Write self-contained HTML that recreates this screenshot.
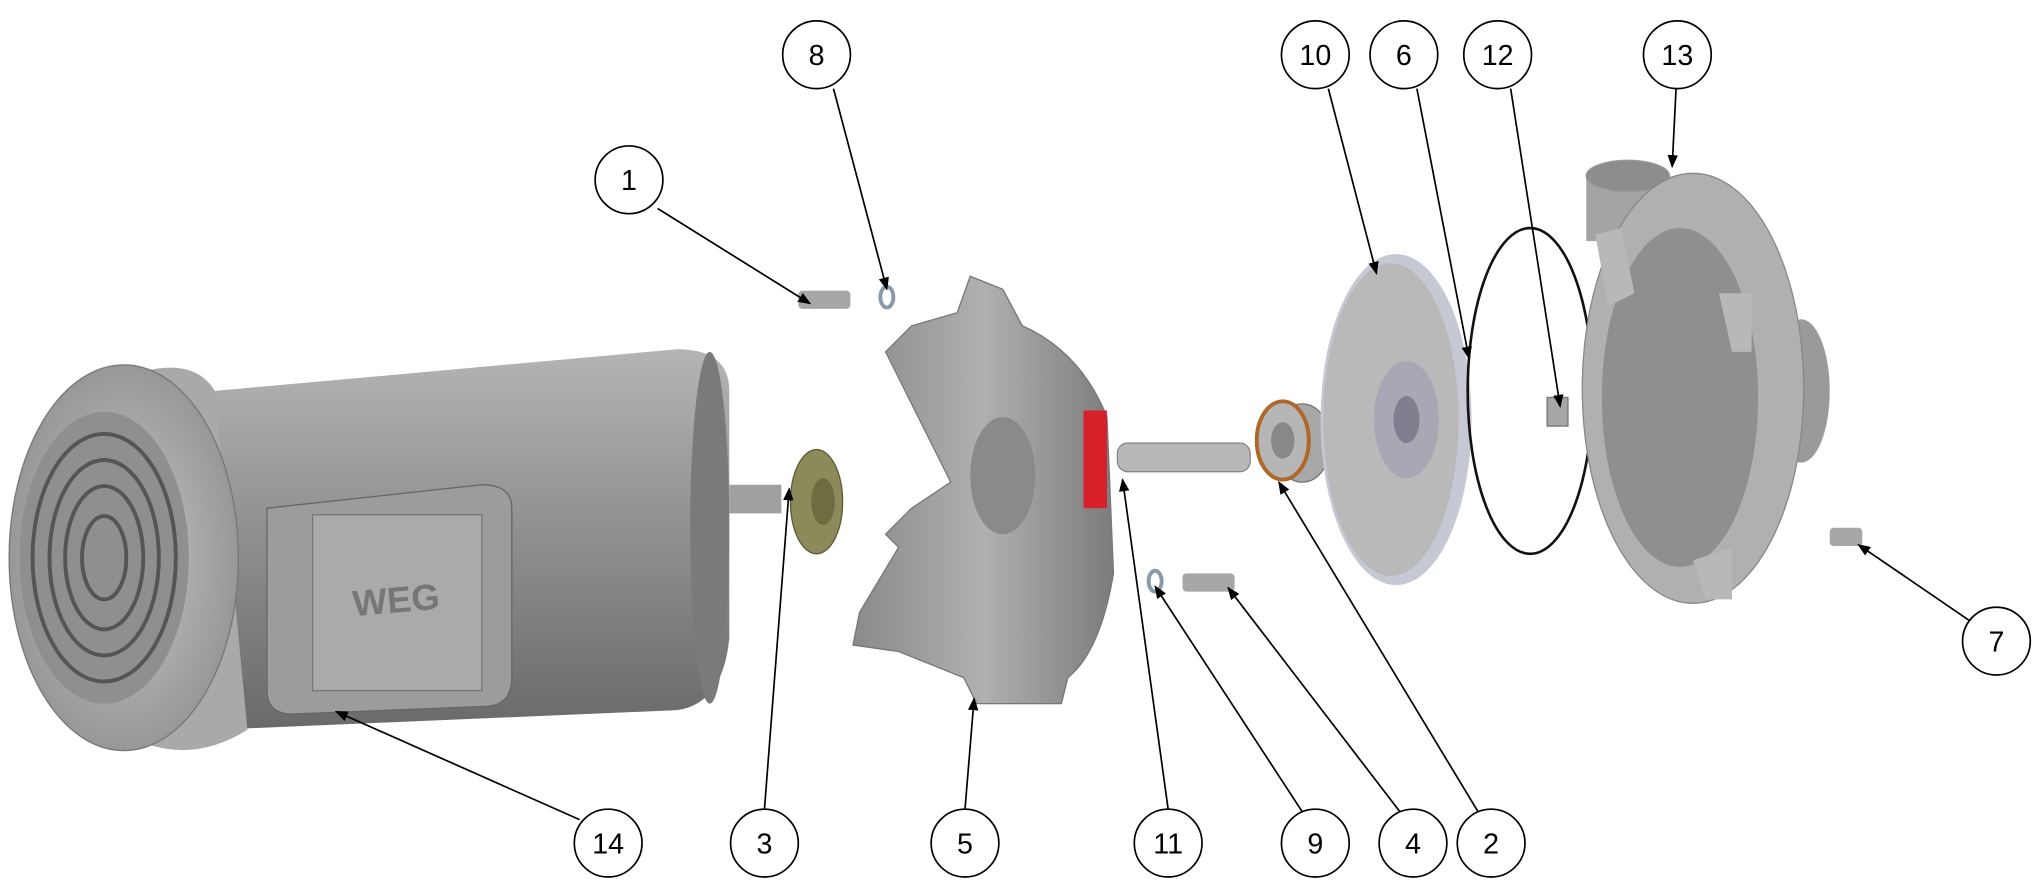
<!DOCTYPE html>
<html><head><style>html,body{margin:0;padding:0;background:#fff;}svg{display:block}</style></head>
<body>
<svg width="2042" height="890" viewBox="0 0 1568 683" preserveAspectRatio="none" xmlns="http://www.w3.org/2000/svg">
<defs>
<linearGradient id="g1" x1="0" y1="0" x2="0" y2="1"><stop offset="0" stop-color="#b4b4b4"/><stop offset="0.5" stop-color="#8e8e8e"/><stop offset="1" stop-color="#6a6a6a"/></linearGradient>
<linearGradient id="g2" x1="0" y1="0" x2="1" y2="0"><stop offset="0" stop-color="#8a8a8a"/><stop offset="0.5" stop-color="#b0b0b0"/><stop offset="1" stop-color="#7c7c7c"/></linearGradient>
<radialGradient id="g3" cx="0.5" cy="0.5" r="0.6"><stop offset="0" stop-color="#c8c8c8"/><stop offset="1" stop-color="#8e8e8e"/></radialGradient>
<marker id="a" markerWidth="10" markerHeight="8" refX="9" refY="4" orient="auto" markerUnits="userSpaceOnUse"><path d="M0,0 L10,4 L0,8 z" fill="#000"/></marker>
</defs>
<!-- motor -->
<path d="M165,300 L520,268 Q560,268 560,300 L560,490 Q555,540 520,545 L165,560 z" fill="url(#g1)"/>
<ellipse cx="545" cy="405" rx="15" ry="135" fill="#7a7a7a"/>
<path d="M110,285 Q150,275 165,300 L190,560 Q150,585 110,570 z" fill="#a9a9a9"/>
<ellipse cx="95" cy="428" rx="88" ry="148" fill="url(#g3)" stroke="#777"/>
<ellipse cx="80" cy="428" rx="65" ry="112" fill="#8f8f8f"/>
<g fill="none" stroke="#555" stroke-width="3">
<ellipse cx="80" cy="428" rx="55" ry="95"/><ellipse cx="80" cy="428" rx="42" ry="75"/><ellipse cx="80" cy="428" rx="30" ry="55"/><ellipse cx="80" cy="428" rx="17" ry="32"/></g>
<rect x="560" y="372" width="40" height="22" fill="#a0a0a0"/>
<path d="M205,390 L370,372 Q393,372 393,390 L393,520 Q393,540 375,542 L225,548 Q205,548 205,530 z" fill="#9c9c9c" stroke="#666"/>
<rect x="240" y="395" width="130" height="135" fill="#aaaaaa" stroke="#777"/>
<text x="305" y="470" font-family="Liberation Sans,sans-serif" font-size="28" font-weight="bold" fill="#777" text-anchor="middle" transform="rotate(-5 305 470)">WEG</text>
<ellipse cx="627" cy="385" rx="20" ry="40" fill="#8c8a5a" stroke="#5d5b35"/>
<ellipse cx="632" cy="385" rx="9" ry="18" fill="#6e6c40"/>
<!-- adapter -->
<path d="M745,212 L770,222 L785,250 Q830,270 850,320 L855,440 Q845,500 820,520 L815,540 L750,540 L740,520 L690,500 L655,495 L660,470 L690,420 L680,410 L700,390 L730,370 L700,310 L680,270 L700,250 L735,240 z" fill="url(#g2)" stroke="#777"/>
<ellipse cx="770" cy="365" rx="25" ry="45" fill="#8a8a8a"/>
<rect x="832" y="315" width="18" height="75" fill="#d8202a"/>
<!-- shaft -->
<rect x="858" y="340" width="102" height="22" rx="8" fill="#b8b8b8" stroke="#888"/>
<!-- seal -->
<ellipse cx="1000" cy="340" rx="22" ry="30" fill="#a8a8a8" stroke="#777"/>
<ellipse cx="985" cy="338" rx="20" ry="30" fill="#b6b6b6" stroke="#b0672a" stroke-width="3"/>
<ellipse cx="985" cy="338" rx="9" ry="14" fill="#888"/>
<!-- impeller -->
<ellipse cx="1072" cy="322" rx="58" ry="127" fill="#c6c8d4"/>
<ellipse cx="1068" cy="322" rx="52" ry="120" fill="#b9b9b9"/>
<ellipse cx="1080" cy="322" rx="25" ry="45" fill="#a8a8b4"/>
<ellipse cx="1080" cy="322" rx="10" ry="18" fill="#7f7f90"/>
<!-- o-ring -->
<ellipse cx="1175" cy="300" rx="48" ry="125" fill="none" stroke="#111" stroke-width="2"/>
<!-- nut 12 -->
<rect x="1188" y="305" width="16" height="22" fill="#a6a6a6" stroke="#777"/>
<!-- casing -->
<rect x="1218" y="135" width="65" height="50" fill="#a4a4a4"/>
<ellipse cx="1250" cy="135" rx="32" ry="12" fill="#8d8d8d" stroke="#999"/>
<ellipse cx="1383" cy="300" rx="22" ry="55" fill="#9a9a9a"/>
<ellipse cx="1300" cy="298" rx="85" ry="165" fill="#b0b0b0" stroke="#888"/>
<ellipse cx="1290" cy="305" rx="60" ry="130" fill="#8f8f8f"/>
<path d="M1225,180 L1245,175 L1255,225 L1235,235 z M1320,225 L1345,225 L1345,270 L1330,270 z M1300,430 L1330,420 L1330,460 L1310,460 z" fill="#b8b8b8"/>
<!-- small bolts -->
<rect x="613" y="223" width="40" height="14" rx="3" fill="#a7a7a7"/>
<ellipse cx="681" cy="228" rx="5" ry="8" fill="none" stroke="#8899aa" stroke-width="3"/>
<rect x="908" y="440" width="40" height="14" rx="3" fill="#a7a7a7"/>
<ellipse cx="887" cy="446" rx="5" ry="8" fill="none" stroke="#8899aa" stroke-width="3"/>
<rect x="1405" y="405" width="25" height="14" rx="3" fill="#a7a7a7"/>
<!-- leaders -->
<g stroke="#000" stroke-width="1.3" fill="none" marker-end="url(#a)">
<line x1="640" y1="68" x2="681" y2="222"/>
<line x1="505" y1="160" x2="622" y2="233"/>
<line x1="1020" y1="68" x2="1057" y2="210"/>
<line x1="1088" y1="68" x2="1128" y2="275"/>
<line x1="1160" y1="68" x2="1198" y2="312"/>
<line x1="1287" y1="68" x2="1284" y2="128"/>
<line x1="1512" y1="476" x2="1427" y2="418"/>
<line x1="445" y1="629" x2="258" y2="546"/>
<line x1="587" y1="621" x2="606" y2="375"/>
<line x1="741" y1="621" x2="748" y2="536"/>
<line x1="897" y1="621" x2="862" y2="368"/>
<line x1="1000" y1="623" x2="887" y2="450"/>
<line x1="1075" y1="623" x2="943" y2="451"/>
<line x1="1135" y1="623" x2="982" y2="370"/>
</g>
<g fill="#fff" stroke="#000" stroke-width="1.3">
<circle cx="627" cy="42" r="26"/><circle cx="483" cy="138" r="26"/>
<circle cx="1010" cy="42" r="26"/><circle cx="1078" cy="42" r="26"/>
<circle cx="1150" cy="42" r="26"/><circle cx="1288" cy="42" r="26"/>
<circle cx="1533" cy="492" r="26"/><circle cx="467" cy="647" r="26"/>
<circle cx="587" cy="647" r="26"/><circle cx="741" cy="647" r="26"/>
<circle cx="897" cy="647" r="26"/><circle cx="1010" cy="647" r="26"/>
<circle cx="1085" cy="647" r="26"/><circle cx="1145" cy="647" r="26"/>
</g>
<g font-family="Liberation Sans,sans-serif" font-size="22" text-anchor="middle" fill="#000">
<text x="627" y="50">8</text><text x="483" y="146">1</text>
<text x="1010" y="50">10</text><text x="1078" y="50">6</text>
<text x="1150" y="50">12</text><text x="1288" y="50">13</text>
<text x="1533" y="500">7</text><text x="467" y="655">14</text>
<text x="587" y="655">3</text><text x="741" y="655">5</text>
<text x="897" y="655">11</text><text x="1010" y="655">9</text>
<text x="1085" y="655">4</text><text x="1145" y="655">2</text>
</g>
</svg>
</body></html>
